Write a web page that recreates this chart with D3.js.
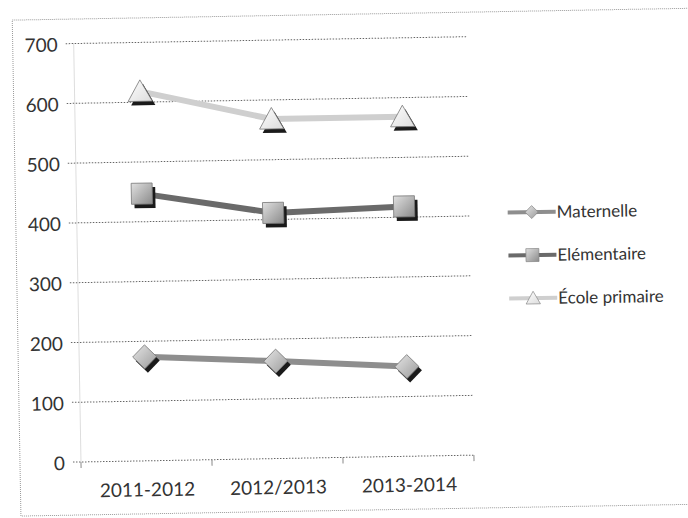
<!DOCTYPE html>
<html><head><meta charset="utf-8">
<script src="https://cdn.jsdelivr.net/npm/d3@7"></script>
<style>html,body{margin:0;padding:0;background:#fff;}svg{display:block;}</style>
</head><body>
<svg id="c" width="688" height="518"></svg>
<script>
const categories = ["2011-2012", "2012/2013", "2013-2014"];
const maternelle = [174, 163, 150];
const elementaire = [447, 411, 418];
const ecolePrimaire = [618, 568, 568];
const yTicks = [0, 100, 200, 300, 400, 500, 600, 700];
const seriesNames = ["Maternelle", "Elémentaire", "École primaire"];

const series = [
  {name: seriesNames[0], values: maternelle, line: "#8e8e8e", shape: "diamond"},
  {name: seriesNames[1], values: elementaire, line: "#6a6a6a", shape: "square"},
  {name: seriesNames[2], values: ecolePrimaire, line: "#cfcfcf", shape: "triangle"}
];

const svg = d3.select("#c");
const defs = svg.append("defs");
function grad(id, c1, c2) {
  const g = defs.append("linearGradient").attr("id", id).attr("x1", "0").attr("y1", "0").attr("x2", "1").attr("y2", "1");
  g.append("stop").attr("offset", "0").attr("stop-color", c1);
  g.append("stop").attr("offset", "1").attr("stop-color", c2);
}
grad("gDia", "#e6e6e6", "#9a9a9a");
grad("gSq", "#e0e0e0", "#8a8a8a");
grad("gTri", "#ffffff", "#dcdcdc");

const root = svg.append("g").attr("transform", "rotate(-1,80,463)");

// chart border
root.append("rect").attr("x", 20).attr("y", 19).attr("width", 700).attr("height", 496)
  .attr("fill", "none").attr("stroke", "#9a9a9a").attr("stroke-width", 1).attr("stroke-dasharray", "1,1");

const pLeft = 81, pRight = 474, pTop = 43.5, pBottom = 462;
const x = d3.scalePoint().domain(categories).range([pLeft, pRight]).padding(0.5);
const y = d3.scaleLinear().domain([0, 700]).range([pBottom, pTop]);

// gridlines
root.append("g").selectAll("line").data(yTicks).join("line")
  .attr("x1", pLeft - 8).attr("x2", pRight).attr("y1", d => y(d)).attr("y2", d => y(d))
  .attr("stroke", "#666").attr("stroke-width", 1).attr("stroke-dasharray", "1.5,1.5");

// vertical axis line
root.append("line").attr("x1", pLeft).attr("x2", pLeft).attr("y1", pTop).attr("y2", pBottom)
  .attr("stroke", "#bbb").attr("stroke-dasharray", "1,1");

// category tick marks
const bw = (pRight - pLeft) / categories.length;
root.append("g").selectAll("line").data(d3.range(categories.length + 1)).join("line")
  .attr("x1", i => pLeft + i * bw).attr("x2", i => pLeft + i * bw)
  .attr("y1", pBottom).attr("y2", pBottom + 6).attr("stroke", "#888");

// y labels
const yAxis = d3.axisLeft(y).tickValues(yTicks).tickSize(0).tickPadding(0);
const ya = root.append("g").attr("transform", `translate(${pLeft - 16},0)`).call(yAxis);
ya.select(".domain").remove();
ya.selectAll("text").attr("font-family", "Lato, 'Open Sans', sans-serif").attr("font-size", 19)
  .attr("fill", "#333").attr("dy", "0.38em");

// x labels
const xAxis = d3.axisBottom(x).tickSize(0).tickPadding(0);
const xa = root.append("g").attr("transform", `translate(0,${pBottom + 22})`).call(xAxis);
xa.select(".domain").remove();
xa.selectAll("text").attr("font-family", "Lato, 'Open Sans', sans-serif").attr("font-size", 19)
  .attr("fill", "#333").attr("dy", "0.71em");

function markerPath(shape, s) {
  if (shape === "diamond") return `M0,${-s}L${s},0L0,${s}L${-s},0Z`;
  if (shape === "square") return `M${-s},${-s}H${s}V${s}H${-s}Z`;
  return `M0,${-s * 1.05}L${s * 1.1},${s * 0.9}H${-s * 1.1}Z`;
}
const fills = {diamond: "url(#gDia)", square: "url(#gSq)", triangle: "url(#gTri)"};
const sizes = {diamond: 12, square: 10.5, triangle: 11};

const line = d3.line().x((d, i) => x(categories[i])).y(d => y(d));
series.forEach(s => {
  const g = root.append("g");
  g.append("path").attr("d", line(s.values)).attr("fill", "none")
    .attr("stroke", s.line).attr("stroke-width", 6);
  const m = g.selectAll("g.m").data(s.values).join("g").attr("class", "m")
    .attr("transform", (d, i) => `translate(${x(categories[i])},${y(d)})`);
  m.append("path").attr("d", markerPath(s.shape, sizes[s.shape]))
    .attr("transform", "translate(3,4)").attr("fill", "#1a1a1a");
  m.append("path").attr("d", markerPath(s.shape, sizes[s.shape]))
    .attr("fill", fills[s.shape]).attr("stroke", "#777").attr("stroke-width", 0.8);
});

// legend
const lg = root.append("g").attr("transform", "translate(512,0)");
series.forEach((s, i) => {
  const yy = 220 + i * 43;
  const g = lg.append("g").attr("transform", `translate(0,${yy})`);
  g.append("line").attr("x1", 0).attr("x2", 48).attr("stroke", s.line).attr("stroke-width", 4);
  g.append("path").attr("d", markerPath(s.shape, 6.5)).attr("transform", "translate(24,0)")
    .attr("fill", fills[s.shape]).attr("stroke", "#888").attr("stroke-width", 0.7);
  g.append("text").attr("x", 49).attr("y", 0).attr("dy", "0.36em")
    .attr("font-family", "Lato, 'Open Sans', sans-serif").attr("font-size", 17).attr("fill", "#333")
    .text(s.name);
});
</script>
</body></html>
